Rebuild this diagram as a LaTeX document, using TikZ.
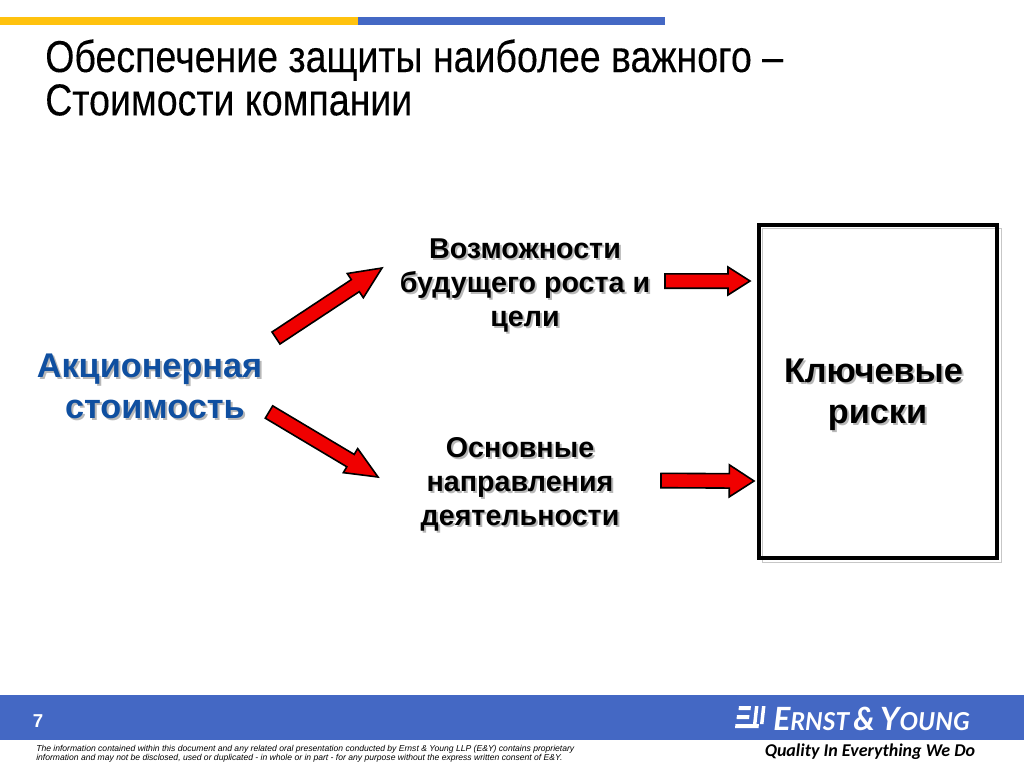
\documentclass[tikz,border=0pt]{standalone}
\usepackage{fontspec}
\usetikzlibrary{calc}
\setmainfont{Liberation Sans}
\newfontfamily\titlefont[FakeStretch=0.84,FakeBold=0.15]{Liberation Sans}
\newfontfamily\logofont{Lato}
\newfontfamily\tagfont{Carlito}
\definecolor{barblue}{HTML}{4468C4}
\definecolor{baryellow}{HTML}{FFC20E}
\definecolor{valueblue}{HTML}{0F4FA0}
\definecolor{arrowred}{HTML}{F00000}
\newcommand{\arrowoutline}[4]{% tail, tip, head length, head half width
	($(#1)!5.4pt!90:(#2)$) -- ($($(#2)!#3!(#1)$)!5.4pt!90:(#2)$) -- ($($(#2)!#3!(#1)$)!#4!90:(#2)$) -- (#2) -- ($($(#2)!#3!(#1)$)!#4!-90:(#2)$) -- ($($(#2)!#3!(#1)$)!5.4pt!-90:(#2)$) -- ($(#1)!5.4pt!-90:(#2)$) -- cycle
}
\newcommand{\blockarrow}[4]{%
	\begin{scope}[shift={(5,4)}]
		\draw[arrow_shadow] \arrowoutline{#1}{#2}{#3}{#4};
	\end{scope}
	\draw[arrow_main] \arrowoutline{#1}{#2}{#3}{#4};
}
\newcommand{\shadowlabel}[5]{% name, position, text style, color, text
	\node[#3,text=black!28] at ([shift={(2,2)}]#2) {#5};
	\node[#3,text=#4] (#1) at (#2) {#5};
}

\begin{document}
\begin{tikzpicture}[x=0.75pt,y=-0.75pt,
	arrow_main/.style={draw=black,line width=1.2pt,fill=arrowred,line join=miter},
	arrow_shadow/.style={draw=black!22,line width=0.6pt,fill=white},
	item_label/.style={align=center,inner sep=0pt,font=\bfseries\fontsize{21.5}{25.5}\selectfont},
	big_label/.style={align=center,inner sep=0pt,font=\bfseries\fontsize{25.7}{31}\selectfont}]
	\useasboundingbox (0,0) rectangle (1024,768);
	% top bars
	\fill[baryellow] (0,17) rectangle (358,25);
	\fill[barblue] (358,17) rectangle (665,25);
	% title
	\node[anchor=north west,inner sep=0pt,align=left,font=\titlefont\fontsize{33.5}{32.5}\selectfont] (title) at (45,39) {Обеспечение защиты наиболее важного –\\Стоимости компании};
	% labels
	\shadowlabel{value}{149.5,386.5}{big_label}{valueblue}{Акционерная\\\hspace{8pt}стоимость}
	\shadowlabel{growth}{525,285.5}{item_label}{black}{Возможности\\будущего роста и\\цели}
	\shadowlabel{business}{520,484.5}{item_label}{black}{Основные\\направления\\деятельности}
	\shadowlabel{risks}{873.5,395}{big_label}{black}{Ключевые\\\hspace{6pt}риски}
	% arrows
	\coordinate (a1) at (276,338);
	\coordinate (b1) at (382,268);
	\coordinate (a2) at (269,412);
	\coordinate (b2) at (378,477);
	\coordinate (a3) at (665,281);
	\coordinate (b3) at (750,281);
	\coordinate (a4) at (661,480.5);
	\coordinate (b4) at (754,481);
	\blockarrow{a1}{b1}{24pt}{10.9pt}
	\blockarrow{a2}{b2}{24pt}{10.5pt}
	\blockarrow{a3}{b3}{16.5pt}{10.5pt}
	\blockarrow{a4}{b4}{18.5pt}{12pt}
	% risk box
	\draw[draw=black!22,line width=0.6pt] (762,228) rectangle (1001.5,562);
	\draw[draw=black,line width=3pt] (759,225) rectangle (997,557.5);
	% footer
	\fill[barblue] (0,695) rectangle (1024,740);
	\node[text=white,font=\bfseries\fontsize{14}{16}\selectfont,inner sep=0pt] (page) at (38,721) {7};
	\node[anchor=north west,inner sep=0pt,align=left,font=\itshape\fontsize{6.43}{7}\selectfont] (notice) at (36,745) {The information contained within this document and any related oral presentation conducted by Ernst \& Young LLP (E\&Y) contains proprietary\\information and may not be disclosed, used or duplicated - in whole or in part - for any purpose without the express written consent of E\&Y.};
	% logo
	\fill[white] (739,706) -- (751,706) -- (750.5,710) -- (738.5,710) -- cycle;
	\fill[white] (737,715) -- (749.5,715) -- (749,719) -- (736.5,719) -- cycle;
	\fill[white] (735.5,724) -- (759,724) -- (758.5,728) -- (735,728) -- cycle;
	\foreach \x in {755,762}
		\fill[white] (\x,706) -- (\x+3.5,706) -- (\x+1.5,724) -- (\x-2,724) -- cycle;
	\node[anchor=base west,inner sep=0pt,text=white,font=\logofont\bfseries\itshape\fontsize{24}{24}\selectfont] (logo) at (773,730) {E\fontsize{18.5}{24}\selectfont RNST\,\fontsize{24}{24}\selectfont\&\,Y\fontsize{18.5}{24}\selectfont OUNG};
	\node[anchor=center,inner sep=0pt,font=\tagfont\bfseries\itshape\fontsize{13.5}{16}\selectfont] (tag) at (870,752) {Quality In Everything We Do};
\end{tikzpicture}
\end{document}
